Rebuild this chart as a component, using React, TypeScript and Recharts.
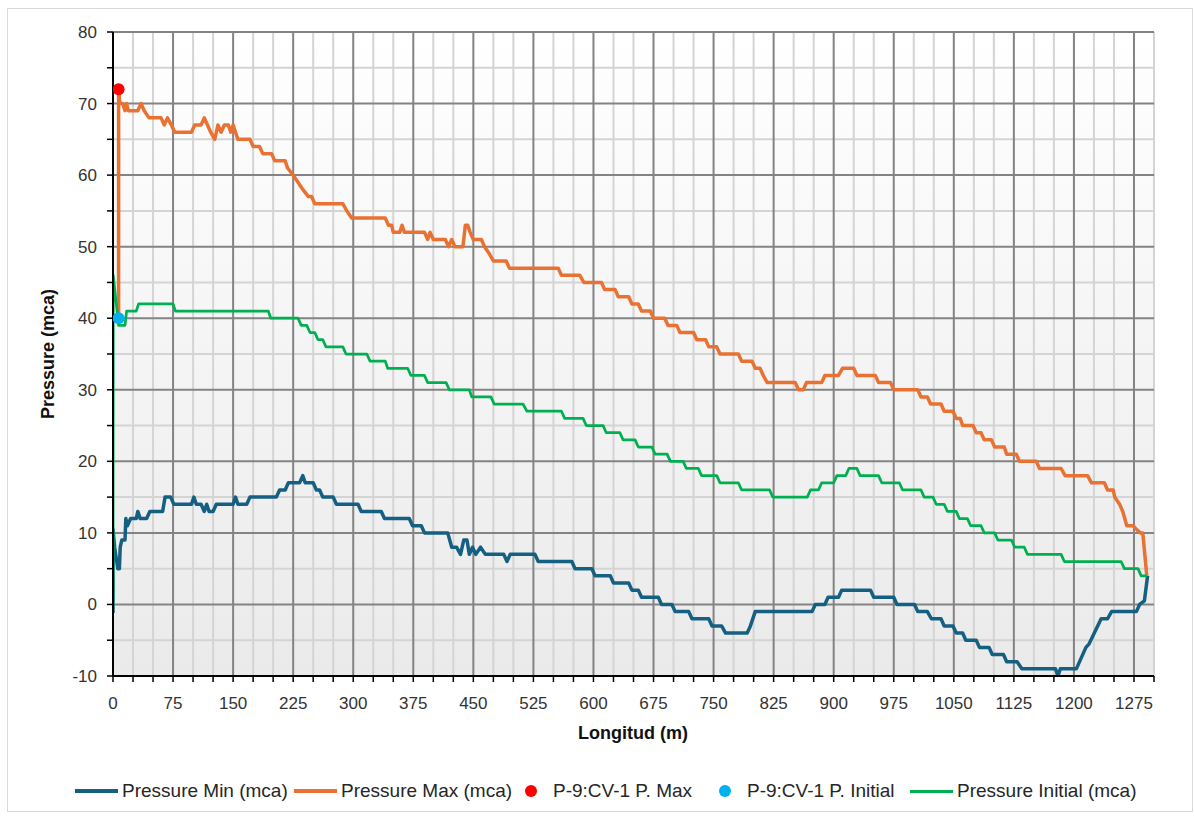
import {
  ComposedChart, Line, Scatter, XAxis, YAxis, CartesianGrid,
} from 'recharts'

// Longitud (m) / pressure (mca) pairs
const PRESSURE_MIN: [number, number][] = [
  [0, -1.2], [0, 10.5], [2, 8], [6, 5], [8, 5], [9, 8], [11, 9], [15, 9], [16, 12], [18, 11],
  [22, 12], [29, 12], [31, 13], [34, 12], [42, 12], [46, 13], [62, 13], [65, 15], [72, 15], [76, 14],
  [98, 14], [101, 15], [104, 14], [110, 14], [114, 13], [117, 14], [120, 13], [125, 13], [129, 14], [150, 14],
  [153, 15], [156, 14], [167, 14], [171, 15], [204, 15], [208, 16], [215, 16], [219, 17], [233, 17], [237, 18],
  [240, 17], [250, 17], [254, 16], [258, 16], [262, 15], [275, 15], [279, 14], [306, 14], [310, 13], [335, 13],
  [339, 12], [370, 12], [374, 11], [385, 11], [389, 10], [418, 10], [423, 8], [429, 8], [434, 7], [438, 9],
  [442, 9], [445, 7], [449, 8], [453, 7], [459, 8], [465, 7], [488, 7], [492, 6], [496, 7], [527, 7],
  [531, 6], [573, 6], [577, 5], [598, 5], [602, 4], [621, 4], [625, 3], [644, 3], [648, 2], [656, 2],
  [660, 1], [681, 1], [685, 0], [698, 0], [702, -1], [719, -1], [723, -2], [744, -2], [748, -3], [760, -3],
  [765, -4], [792, -4], [796, -3], [802, -1], [873, -1], [877, 0], [889, 0], [893, 1], [906, 1], [910, 2],
  [946, 2], [950, 1], [975, 1], [979, 0], [1001, 0], [1005, -1], [1017, -1], [1022, -2], [1034, -2], [1038, -3],
  [1049, -3], [1053, -4], [1061, -4], [1065, -5], [1078, -5], [1082, -6], [1094, -6], [1098, -7], [1112, -7], [1116, -8],
  [1129, -8], [1135, -9], [1177, -9], [1180, -10], [1183, -9], [1203, -9], [1215, -6], [1219, -5.5], [1234, -2], [1242, -2],
  [1247, -1], [1278, -1], [1282, 0], [1288, 0.5], [1292, 4],
]

const PRESSURE_MAX: [number, number][] = [
  [7, 40], [7, 72], [8.5, 70], [12, 70], [15, 69], [17, 70], [19, 69], [31, 69], [35, 70], [39, 69],
  [45, 68], [60, 68], [64, 67], [68, 68], [73, 67], [77, 66], [98, 66], [102, 67], [110, 67], [114, 68],
  [118, 67], [122, 66], [127, 65], [131, 67], [135, 66], [139, 67], [144, 67], [147, 66], [150, 67], [156, 65],
  [171, 65], [175, 64], [183, 64], [187, 63], [198, 63], [202, 62], [215, 62], [218, 61], [225, 60], [231, 59],
  [237, 58], [244, 57], [248, 57], [252, 56], [287, 56], [292, 55], [298, 54], [340, 54], [344, 53], [348, 53],
  [350, 52], [358, 52], [361, 53], [364, 52], [389, 52], [393, 51], [396, 52], [400, 51], [415, 51], [419, 50],
  [423, 51], [427, 50], [437, 50], [440, 53], [443, 53], [446, 52], [450, 51], [460, 51], [464, 50], [470, 49],
  [475, 48], [491, 48], [495, 47], [556, 47], [560, 46], [583, 46], [588, 45], [610, 45], [614, 44], [627, 44],
  [631, 43], [644, 43], [648, 42], [656, 42], [660, 41], [671, 41], [675, 40], [689, 40], [693, 39], [704, 39],
  [708, 38], [725, 38], [729, 37], [740, 37], [744, 36], [754, 36], [758, 35], [781, 35], [785, 34], [798, 34],
  [802, 33], [808, 33], [812, 32], [817, 31], [852, 31], [856, 30], [862, 30], [866, 31], [885, 31], [889, 32],
  [906, 32], [911, 33], [925, 33], [929, 32], [952, 32], [956, 31], [971, 31], [975, 30], [1005, 30], [1009, 29],
  [1017, 29], [1021, 28], [1034, 28], [1038, 27], [1049, 27], [1053, 26], [1058, 26], [1061, 25], [1074, 25], [1078, 24],
  [1084, 24], [1088, 23], [1097, 23], [1101, 22], [1113, 22], [1116, 21], [1128, 21], [1132, 20], [1153, 20], [1157, 19],
  [1184, 19], [1189, 18], [1217, 18], [1222, 17], [1238, 17], [1242, 16], [1249, 16], [1251, 15], [1257, 14], [1261, 13],
  [1266, 11], [1274, 11], [1278, 10.5], [1283, 10], [1286, 10], [1291, 4],
]

const PRESSURE_INITIAL: [number, number][] = [
  [0, 0], [0.3, 46], [6, 40], [7, 39], [15, 39], [17, 41], [29, 41], [32, 42], [75, 42], [78, 41],
  [194, 41], [197, 40], [231, 40], [235, 39], [242, 39], [246, 38], [252, 38], [256, 37], [262, 37], [266, 36],
  [287, 36], [291, 35], [317, 35], [321, 34], [340, 34], [343, 33], [368, 33], [372, 32], [389, 32], [393, 31],
  [416, 31], [420, 30], [445, 30], [448, 29], [472, 29], [476, 28], [512, 28], [517, 27], [560, 27], [564, 26],
  [587, 26], [591, 25], [612, 25], [616, 24], [633, 24], [637, 23], [652, 23], [656, 22], [673, 22], [677, 21],
  [692, 21], [696, 20], [712, 20], [716, 19], [731, 19], [735, 18], [754, 18], [758, 17], [781, 17], [785, 16],
  [820, 16], [824, 15], [867, 15], [871, 16], [881, 16], [885, 17], [900, 17], [904, 18], [915, 18], [919, 19],
  [929, 19], [933, 18], [956, 18], [960, 17], [982, 17], [986, 16], [1009, 16], [1013, 15], [1024, 15], [1028, 14],
  [1038, 14], [1042, 13], [1053, 13], [1057, 12], [1067, 12], [1071, 11], [1084, 11], [1088, 10], [1101, 10], [1105, 9],
  [1122, 9], [1126, 8], [1138, 8], [1142, 7], [1184, 7], [1188, 6], [1259, 6], [1263, 5], [1280, 5], [1284, 4],
  [1291, 4],
]

// check valve P-9:CV-1 markers
const CV_MAX: [number, number][] = [[7, 72]]
const CV_INITIAL: [number, number][] = [[7, 40]]

const X_TICKS = [
  0, 25, 50, 75, 100, 125, 150, 175, 200, 225, 250, 275, 300, 325, 350, 375, 400, 425, 450, 475,
  500, 525, 550, 575, 600, 625, 650, 675, 700, 725, 750, 775, 800, 825, 850, 875, 900, 925, 950, 975,
  1000, 1025, 1050, 1075, 1100, 1125, 1150, 1175, 1200, 1225, 1250, 1275, 1300,
]
const Y_TICKS = [-10, -5, 0, 5, 10, 15, 20, 25, 30, 35, 40, 45, 50, 55, 60, 65, 70, 75, 80]

const COLORS = {
  min: '#156082',
  max: '#E97132',
  initial: '#00B050',
  cvMax: '#FF0000',
  cvInitial: '#00B0F0',
}

const FONT = '"Liberation Sans", Arial, sans-serif'

// plot box in page pixels (used for grid lines only)
const PLOT = { left: 113, top: 32, width: 1041, height: 644 }
const xPx = (v: number) => PLOT.left + (v / 1300) * PLOT.width
const yPx = (v: number) => PLOT.top + ((80 - v) / 90) * PLOT.height

const toRows = (pts: [number, number][]) => pts.map(([x, y]) => ({ x, y }))

const LEGEND = [
  { label: 'Pressure Min (mca)', color: COLORS.min, kind: 'line', x: 75 },
  { label: 'Pressure Max (mca)', color: COLORS.max, kind: 'line', x: 294 },
  { label: 'P-9:CV-1 P. Max', color: COLORS.cvMax, kind: 'dot', x: 525 },
  { label: 'P-9:CV-1 P. Initial', color: COLORS.cvInitial, kind: 'dot', x: 719 },
  { label: 'Pressure Initial (mca)', color: COLORS.initial, kind: 'line', x: 910 },
]

const dotShape = (color: string) => (p: any) => (
  <circle cx={p.cx} cy={p.cy} r={6} fill={color} />
)

export default function App() {
  const tickStyle = { fontSize: 17, fill: '#333', fontFamily: FONT }
  return (
    <div style={{ position: 'absolute', left: 0, top: 0, width: 1194, height: 818, background: '#fff', fontFamily: FONT }}>
      <div style={{ position: 'absolute', left: 7, top: 8, width: 1186, height: 804, border: '1px solid #d9d9d9', boxSizing: 'border-box' }} />
      <ComposedChart width={1194} height={818} margin={{ top: 32, right: 40, left: 0, bottom: 112 }}
        style={{ position: 'absolute', left: 0, top: 0 }}>
        <defs>
          <linearGradient id="plotBg" x1="0" y1="0" x2="0" y2="1">
            <stop offset="0%" stopColor="#ffffff" />
            <stop offset="100%" stopColor="#eaeaea" />
          </linearGradient>
        </defs>
        <CartesianGrid fill="url(#plotBg)" stroke="#d4d4d4" strokeWidth={2}
          verticalPoints={X_TICKS.filter(v => v % 75 !== 0).map(xPx)}
          horizontalPoints={Y_TICKS.filter(v => v % 10 !== 0).map(yPx)} />
        <CartesianGrid stroke="#838383" strokeWidth={2}
          verticalPoints={X_TICKS.filter(v => v % 75 === 0).map(xPx)}
          horizontalPoints={Y_TICKS.filter(v => v % 10 === 0).map(yPx)} />
        <XAxis dataKey="x" type="number" domain={[0, 1300]} ticks={X_TICKS} interval={0}
          height={30} tickSize={6} tickMargin={15}
          tickFormatter={(v: number) => (v % 75 === 0 ? String(v) : '')}
          axisLine={{ stroke: '#000', strokeWidth: 2 }} tickLine={{ stroke: '#000', strokeWidth: 1.5 }}
          tick={tickStyle} allowDataOverflow />
        <YAxis type="number" domain={[-10, 80]} ticks={Y_TICKS} interval={0} width={113}
          tickSize={6} tickMargin={10}
          tickFormatter={(v: number) => (v % 10 === 0 ? String(v) : '')}
          axisLine={{ stroke: '#000', strokeWidth: 2 }} tickLine={{ stroke: '#000', strokeWidth: 1.5 }}
          tick={tickStyle} allowDataOverflow />
        <Line data={toRows(PRESSURE_MIN)} dataKey="y" type="linear" stroke={COLORS.min} strokeWidth={3.5}
          dot={false} strokeLinejoin="round" isAnimationActive={false} />
        <Line data={toRows(PRESSURE_MAX)} dataKey="y" type="linear" stroke={COLORS.max} strokeWidth={3.5}
          dot={false} strokeLinejoin="round" isAnimationActive={false} />
        <Line data={toRows(PRESSURE_INITIAL)} dataKey="y" type="linear" stroke={COLORS.initial} strokeWidth={2.75}
          dot={false} strokeLinejoin="round" isAnimationActive={false} />
        <Scatter data={toRows(CV_MAX)} dataKey="y" shape={dotShape(COLORS.cvMax)} isAnimationActive={false} />
        <Scatter data={toRows(CV_INITIAL)} dataKey="y" shape={dotShape(COLORS.cvInitial)} isAnimationActive={false} />
      </ComposedChart>

      <div style={{
        position: 'absolute', left: 48, top: 354, transform: 'translate(-50%, -50%) rotate(-90deg)',
        fontSize: 18, fontWeight: 700, color: '#111', whiteSpace: 'nowrap',
      }}>Pressure (mca)</div>
      <div style={{
        position: 'absolute', left: 633, top: 733, transform: 'translate(-50%, -50%)',
        fontSize: 18, fontWeight: 700, color: '#111', whiteSpace: 'nowrap',
      }}>Longitud (m)</div>

      {LEGEND.map(item => (
        <div key={item.label} style={{
          position: 'absolute', left: item.x, top: 791, transform: 'translateY(-50%)',
          display: 'flex', alignItems: 'center', whiteSpace: 'nowrap', fontSize: 19, color: '#262626',
        }}>
          {item.kind === 'line'
            ? <span style={{ display: 'inline-block', width: 43, height: item.label.startsWith('Pressure Initial') ? 3 : 4, background: item.color, marginRight: 4 }} />
            : <span style={{ display: 'inline-block', width: 12, height: 12, borderRadius: 6, background: item.color, marginRight: 16 }} />}
          <span>{item.label}</span>
        </div>
      ))}
    </div>
  )
}
